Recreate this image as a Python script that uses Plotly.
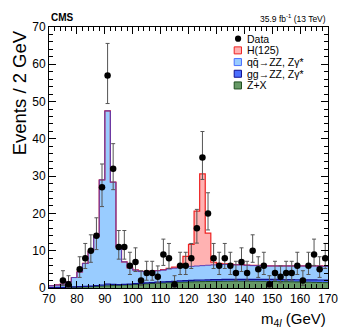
import math

import plotly.graph_objects as go

# m4l binning: 2 GeV bins from 70 to 170
edges = list(range(70, 172, 2))
centers = [e + 1 for e in edges[:-1]]

# observed events per bin
data_counts = [0, 0, 2, 1, 0, 5, 8, 10, 14, 27,
               57, 32, 11, 11, 6, 7, 2, 4, 4, 3,
               9, 8, 1, 6, 6, 8, 16, 35, 20, 8,
               6, 8, 6, 4, 7, 4, 10, 5, 6, 1,
               4, 3, 4, 4, 6, 2, 6, 9, 5, 8]

# expected yields per bin (stack components)
zx = [0.08, 0.10, 0.13, 0.16, 0.20, 0.25, 0.30, 0.36, 0.42, 0.50,
      0.57, 0.65, 0.72, 0.80, 0.88, 0.96, 1.04, 1.12, 1.20, 1.27,
      1.34, 1.41, 1.47, 1.53, 1.58, 1.63, 1.67, 1.71, 1.74, 1.77,
      1.79, 1.81, 1.82, 1.83, 1.83, 1.83, 1.82, 1.81, 1.79, 1.77,
      1.75, 1.72, 1.69, 1.66, 1.63, 1.60, 1.56, 1.52, 1.48, 1.44]
ggzz = [0.05, 0.05, 0.06, 0.07, 0.08, 0.10, 0.12, 0.15, 0.20, 0.30,
        0.45, 0.30, 0.20, 0.18, 0.18, 0.20, 0.22, 0.24, 0.26, 0.28,
        0.30, 0.32, 0.34, 0.36, 0.38, 0.40, 0.42, 0.44, 0.45, 0.46,
        0.47, 0.48, 0.49, 0.50, 0.50, 0.50, 0.51, 0.52, 0.52, 0.53,
        0.54, 0.55, 0.56, 0.57, 0.58, 0.60, 0.62, 0.64, 0.66, 0.70]
qqzz = [0.47, 0.65, 0.86, 1.42, 2.52, 3.95, 6.18, 9.39, 13.28, 28.20,
        46.48, 27.45, 10.08, 6.02, 4.34, 3.64, 3.14, 3.04, 3.04, 3.05,
        3.16, 3.37, 3.49, 3.61, 3.74, 3.77, 3.81, 3.85, 3.91, 3.97,
        4.04, 4.01, 3.99, 3.87, 3.87, 3.77, 3.67, 3.67, 3.59, 3.60,
        3.61, 3.63, 3.65, 3.67, 3.69, 3.70, 3.72, 3.74, 3.76, 3.66]
higgs = [0.02, 0.02, 0.02, 0.02, 0.02, 0.02, 0.02, 0.02, 0.02, 0.02,
         0.02, 0.02, 0.02, 0.02, 0.02, 0.05, 0.05, 0.05, 0.05, 0.10,
         0.15, 0.20, 0.30, 0.60, 2.80, 5.90, 14.70, 24.60, 8.60, 0.70,
         0.30, 0.15, 0.10, 0.05, 0.05, 0.05, 0.05, 0.05, 0.05, 0.05,
         0.05, 0.05, 0.05, 0.05, 0.05, 0.05, 0.05, 0.05, 0.05, 0.05]

FONT = 'Liberation Sans, Arial, Helvetica, sans-serif'

# page is 350x332 but the html body has an 8px margin
OFF = 8
W, H = 350 - OFF, 332 - OFF
# plot frame in page pixels
L, R, T, B = 49, 336, 20, 288


def px(xp):
    return (xp - L) / (R - L)


def py(yp):
    return (B - yp) / (B - T)


def pois_cdf(k, mu):
    term = math.exp(-mu)
    s = term
    for i in range(1, k + 1):
        term *= mu / i
        s += term
    return s


def solve(f, target, lo, hi):
    # f decreasing in mu
    for _ in range(100):
        mid = 0.5 * (lo + hi)
        if f(mid) > target:
            lo = mid
        else:
            hi = mid
    return 0.5 * (lo + hi)


def garwood(n):
    a = 0.158655
    up = solve(lambda m: pois_cdf(n, m), a, 0.0, n + 60.0)
    lo = 0.0 if n == 0 else solve(lambda m: pois_cdf(n - 1, m), 1 - a, 0.0, n + 60.0)
    return n - lo, up - n


def step(vals):
    return edges, list(vals) + [vals[-1]]


s1 = zx
s2 = [a + b for a, b in zip(s1, ggzz)]
s3 = [a + b for a, b in zip(s2, qqzz)]
s4 = [a + b for a, b in zip(s3, higgs)]

fig = go.Figure()

layers = [
    (s1, '#669966', 'tozeroy'),
    (s2, '#4b6fff', 'tonexty'),
    (s3, '#99ccff', 'tonexty'),
    (s4, '#ffb2b2', 'tonexty'),
]
for vals, col, fill in layers:
    x, y = step(vals)
    fig.add_trace(go.Scatter(x=x, y=y, mode='lines', line=dict(width=0, shape='hv'),
                             fill=fill, fillcolor=col, hoverinfo='skip'))

outlines = [
    (s1, '#1e4d1e', 1.0),
    (s2, '#101090', 1.2),
    (s4, '#ee2222', 1.2),
    (s3, '#5a3cb4', 1.0),
]
for vals, col, w in outlines:
    x, y = step(vals)
    fig.add_trace(go.Scatter(x=x, y=y, mode='lines', line=dict(color=col, width=w, shape='hv'),
                             hoverinfo='skip'))

dx, dy, elo, ehi = [], [], [], []
for c, n in zip(centers, data_counts):
    if n == 0:
        continue
    lo, hi = garwood(n)
    dx.append(c)
    dy.append(n)
    elo.append(lo)
    ehi.append(hi)

fig.add_trace(go.Scatter(
    x=dx, y=dy, mode='markers',
    marker=dict(color='black', size=6.5),
    error_y=dict(type='data', symmetric=False, array=ehi, arrayminus=elo,
                 color='#555555', thickness=1, width=2),
))

axis_common = dict(
    ticks='inside', ticklen=7, tickwidth=1, tickcolor='black',
    minor=dict(dtick=2, ticks='inside', ticklen=4, tickcolor='black'),
    showline=True, linecolor='black', linewidth=1, mirror='ticks',
    showgrid=False, zeroline=False, dtick=10,
    tickfont=dict(family=FONT, size=12, color='black'),
)
fig.update_xaxes(range=[70, 170], **axis_common)
fig.update_yaxes(range=[0, 70], **axis_common)

ann = [
    dict(text='Events / 2 GeV', textangle=-90, x=px(19), y=py(21), xanchor='center', yanchor='top',
         font=dict(size=18.5)),
    dict(text='m<sub>4<i>l</i></sub> (GeV)', x=1.0, y=py(320), xanchor='right', yanchor='middle',
         font=dict(size=15)),
    dict(text='<b>CMS</b>', x=0.0, y=py(10.5), xanchor='left', yanchor='middle',
         font=dict(size=10)),
    dict(text='35.9 fb<sup>-1</sup> (13 TeV)', x=1.0, y=py(11), xanchor='right', yanchor='middle',
         font=dict(size=8.5)),
]

legend_rows = [
    ('Data', 32, None, None),
    ('H(125)', 44, '#ffb2b2', '#ee2222'),
    ('q\u0071\u0304\u2192ZZ, Z\u03b3*', 56, '#99ccff', '#4b6fff'),
    ('gg\u2192ZZ, Z\u03b3*', 68, '#4b6fff', '#101090'),
    ('Z+X', 80, '#669966', '#1e4d1e'),
]
shapes = []
for label, yc, fc, lc in legend_rows:
    ann.append(dict(text=label, x=px(251), y=py(yc), xanchor='left', yanchor='middle',
                    font=dict(size=10.5)))
    if fc is None:
        shapes.append(dict(type='circle', xref='paper', yref='paper',
                           x0=px(240.3), x1=px(246.7), y0=py(yc + 3.2), y1=py(yc - 3.2),
                           fillcolor='black', line=dict(width=0)))
    else:
        shapes.append(dict(type='rect', xref='paper', yref='paper',
                           x0=px(239.5), x1=px(247), y0=py(yc + 3.6), y1=py(yc - 3.6),
                           fillcolor=fc, line=dict(color=lc, width=1)))

for a in ann:
    a.update(xref='paper', yref='paper', showarrow=False)
    a.setdefault('font', {})
    a['font'].setdefault('family', FONT)
    a['font'].setdefault('color', 'black')

fig.update_layout(
    width=W, height=H,
    margin=dict(l=L - OFF, r=W + OFF - R, t=T - OFF, b=H + OFF - B),
    plot_bgcolor='white', paper_bgcolor='white',
    showlegend=False,
    font=dict(family=FONT, size=12, color='black'),
    annotations=ann, shapes=shapes,
)

fig.write_html("out.html")
